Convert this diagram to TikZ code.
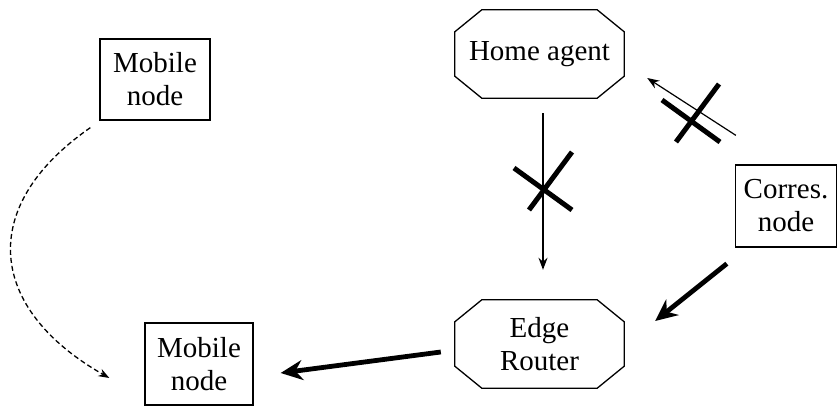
\documentclass[tikz,border=0pt]{standalone}
\usepackage{fontspec}
\setmainfont{Liberation Serif}
\usetikzlibrary{arrows.meta,calc}
\newcommand\octdraw[1]{%
  \draw[octline] ([xshift=27pt]#1.north west) -- ([xshift=-27pt]#1.north east)
    -- ([yshift=-22pt]#1.north east) -- ([yshift=22pt]#1.south east)
    -- ([xshift=-27pt]#1.south east) -- ([xshift=27pt]#1.south west)
    -- ([yshift=22pt]#1.south west) -- ([yshift=-22pt]#1.north west) -- cycle;}
\begin{document}
\begin{tikzpicture}[x=1pt,y=-1pt,
  txt/.style={align=center, font=\fontsize{29}{33}\selectfont, inner sep=0pt},
  box/.style={txt, draw, line width=1.3pt},
  oct/.style={txt, minimum width=169pt, minimum height=88pt},
  octline/.style={line width=1.3pt, line join=miter},
  thinarrow/.style={line width=1.2pt, -{Stealth[length=12pt,width=9pt]}},
  thickarrow/.style={line width=4.8pt, -{Stealth[length=22pt,width=20pt]}},
  crossline/.style={line width=5pt}]
\useasboundingbox (0,0) rectangle (838,414);
\node[box, minimum width=110pt, minimum height=81pt] (mn1) at (155,79.5) {Mobile\\node};
\node[box, minimum width=108pt, minimum height=82pt] (mn2) at (199,364) {Mobile\\node};
\node[box, minimum width=101pt, minimum height=82pt] (cn) at (786,206) {Corres.\\node};
\node[oct] (ha) at (539.5,54) {Home agent};
\node[oct] (er) at (539.5,344) {Edge\\Router};
\octdraw{ha}
\octdraw{er}
% dashed move
\draw[line width=1.3pt, dash pattern=on 5pt off 3pt, -{Stealth[length=11pt,width=8pt]}]
  ([xshift=-9pt,yshift=-7pt]mn1.south west) .. controls (-24,207) and (-12,309) ..
  ([xshift=-35pt,yshift=-14pt]mn2.west);
% home agent -> edge router (blocked)
\draw[thinarrow] ([xshift=3.5pt,yshift=-15pt]ha.south) -- ([xshift=3.5pt,yshift=30pt]er.north);
\draw[crossline] (514,168) -- (572,210);
\draw[crossline] (572,152) -- (529,210);
% corres -> home agent (blocked)
\draw[thinarrow] ([xshift=1pt,yshift=29pt]cn.north west) -- ([xshift=23pt,yshift=-24pt]ha.east);
\draw[crossline] (662,100) -- (720,142);
\draw[crossline] (719,84) -- (676,142);
% corres -> edge router
\draw[thickarrow] ([xshift=-8pt,yshift=-16pt]cn.south west) -- ([xshift=31pt,yshift=23pt]er.east);
% edge router -> mobile node
\draw[thickarrow] ([xshift=-14pt,yshift=-8pt]er.west) -- ([xshift=27pt,yshift=-9pt]mn2.east);
\end{tikzpicture}
\end{document}
